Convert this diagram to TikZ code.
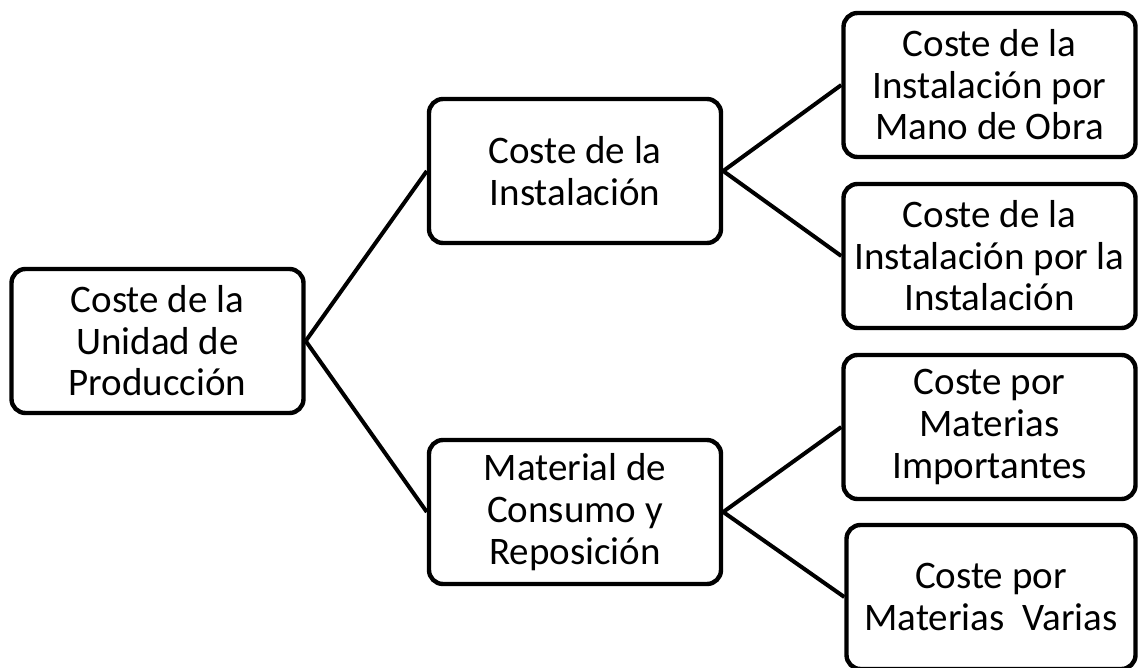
\documentclass[tikz,border=0pt]{standalone}
\usepackage{fontspec}
\setmainfont{Carlito}
\begin{document}
\begin{tikzpicture}[x=0.5pt, y=-0.5pt,
  costBox/.style={draw, line width=2.2pt, rounded corners=7pt, align=center,
    minimum width=146pt, minimum height=72pt, inner sep=0pt,
    font={\fontsize{19.5}{20.8}\selectfont}},
  branch/.style={line width=2pt}]
  \useasboundingbox (0,0) rectangle (1140,668);

  % Draw the boxes first

  \node[costBox] (unidad) at (157.5,341) {Coste de la\\Unidad de\\Producción};

  \node[costBox] (instalacion) at (575,171) {Coste de la\\Instalación};
  \node[costBox] (material) at (575,512) {Material de\\Consumo y\\Reposición};

  \node[costBox] (manoObra) at (989.5,85) {Coste de la\\Instalación por\\Mano de Obra};
  \node[costBox] (porInstalacion) at (989.5,256) {Coste de la\\Instalación por la\\Instalación};
  \node[costBox] (importantes) at (989.5,427) {Coste por\\Materias\\Importantes};
  \node[costBox, minimum width=144.5pt] (varias) at (991,597) {Coste por\\Materias~~Varias};

  % Then draw the branches

  \foreach \child in {instalacion, material} {
    \draw[branch] (unidad.east) -- (\child.west);
  }

  \foreach \child in {manoObra, porInstalacion} {
    \draw[branch] (instalacion.east) -- (\child.west);
  }

  \foreach \child in {importantes, varias} {
    \draw[branch] (material.east) -- (\child.west);
  }
\end{tikzpicture}
\end{document}
